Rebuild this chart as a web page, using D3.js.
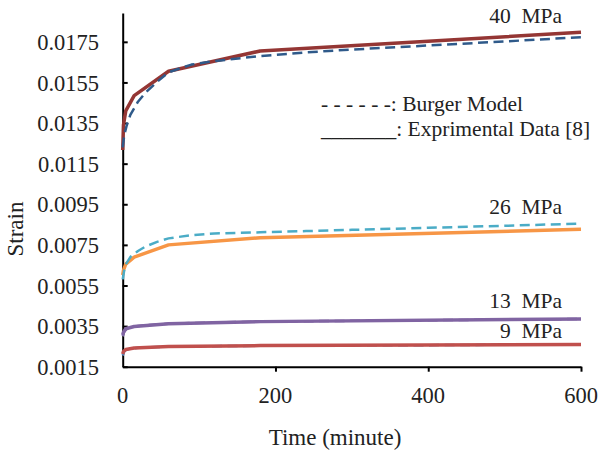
<!DOCTYPE html>
<html>
<head>
<meta charset="utf-8">
<script src="https://cdn.jsdelivr.net/npm/d3@7"></script>
<style>
  body { margin: 0; background: #fff; }
</style>
</head>
<body>
<script>
const w = 600;
const h = 452;
const serif = "Liberation Serif";

// experimental data times (minute) and model times
const expTime = [0, 1, 4, 15, 60, 180, 600];
const modelTime = [0, 2, 5, 10, 20, 30, 45, 60, 90, 120, 180, 240, 300, 400, 500, 600];

// strain values
const exp40 = [0.01217, 0.01340, 0.01410, 0.01485, 0.01605, 0.01705, 0.01797];
const model40 = [0.01230, 0.01290, 0.01335, 0.01390, 0.01455, 0.01500, 0.01553, 0.01600, 0.01638, 0.01655, 0.01680, 0.01698, 0.01712, 0.01732, 0.01752, 0.01773];

const exp26 = [0.00602, 0.00625, 0.00655, 0.00690, 0.00750, 0.00785, 0.00827];
const model26 = [0.00580, 0.00625, 0.00660, 0.00690, 0.00720, 0.00742, 0.00765, 0.00782, 0.00798, 0.00806, 0.00812, 0.00818, 0.00824, 0.00834, 0.00844, 0.00855];

const exp13 = [0.00306, 0.00320, 0.00337, 0.00348, 0.00362, 0.00372, 0.00385];
const model13 = [0.00300, 0.00322, 0.00336, 0.00344, 0.00350, 0.00354, 0.00358, 0.00361, 0.00365, 0.00368, 0.00372, 0.00374, 0.00376, 0.00379, 0.00382, 0.00385];

const exp9 = [0.00213, 0.00225, 0.00235, 0.00242, 0.00249, 0.00254, 0.00259];
const model9 = [0.00205, 0.00225, 0.00234, 0.00239, 0.00243, 0.00245, 0.00247, 0.00249, 0.00250, 0.00251, 0.00253, 0.00254, 0.00255, 0.00256, 0.00258, 0.00259];

const yTicks = [0.0015, 0.0035, 0.0055, 0.0075, 0.0095, 0.0115, 0.0135, 0.0155, 0.0175];
const xTicks = [0, 200, 400, 600];
const stressLabels = ["40  MPa", "26  MPa", "13  MPa", "9  MPa"];
const legendLabels = ["- - - - - -: Burger Model", "_______: Exprimental Data [8]"];

const svg = d3.select("body")
              .append("svg")
              .attr("width", w)
              .attr("height", h);

const xScale = d3.scaleLinear()
      .domain([0, 600])
      .range([122.7, 581]);

const yScale = d3.scaleLinear()
      .domain([0.0015, 0.01892])
      .range([366.7, 13]);

// y axis, ticks pointing inward
const yAxis = svg.append("g")
      .attr("transform", "translate(" + xScale(0) + ",0)")
      .call(d3.axisRight(yScale).tickValues(yTicks).tickSize(5).tickSizeOuter(0).tickFormat(""));
yAxis.select(".domain").attr("stroke-width", 2);
yAxis.selectAll(".tick line").attr("stroke-width", 2);

svg.selectAll(".ylab")
   .data(yTicks)
   .enter().append("text")
   .attr("x", 99)
   .attr("y", d => yScale(d))
   .attr("dy", "0.36em")
   .attr("text-anchor", "end")
   .attr("font-family", serif)
   .attr("font-size", 22.5)
   .attr("fill", "#222")
   .text(d => d3.format(".4f")(d));

// x axis, ticks pointing outward
const xAxis = svg.append("g")
      .attr("transform", "translate(0," + yScale(0.0015) + ")")
      .call(d3.axisBottom(xScale).tickValues(xTicks).tickSize(5).tickSizeOuter(0).tickFormat(""));
xAxis.select(".domain").attr("stroke-width", 2);
xAxis.selectAll(".tick line").attr("stroke-width", 2);
xAxis.selectAll(".tick").filter(d => d === 0).select("line").remove();

svg.selectAll(".xlab")
   .data(xTicks)
   .enter().append("text")
   .attr("x", d => xScale(d))
   .attr("y", 403)
   .attr("text-anchor", "middle")
   .attr("font-family", serif)
   .attr("font-size", 22.5)
   .attr("fill", "#222")
   .text(d => d);

svg.append("text")
   .attr("x", 335)
   .attr("y", 445)
   .attr("text-anchor", "middle")
   .attr("font-family", serif)
   .attr("font-size", 23)
   .attr("fill", "#222")
   .text("Time (minute)");

svg.append("text")
   .attr("transform", "translate(23,229) rotate(-90)")
   .attr("text-anchor", "middle")
   .attr("font-family", serif)
   .attr("font-size", 23)
   .attr("fill", "#222")
   .text("Strain");

const series = [
  {t: modelTime, v: model9, color: "#4F81BD", dash: true},
  {t: modelTime, v: model13, color: "#7E6AA6", dash: true},
  {t: expTime, v: exp9, color: "#C0504D", dash: false},
  {t: expTime, v: exp13, color: "#8064A2", dash: false},
  {t: expTime, v: exp26, color: "#F79646", dash: false},
  {t: modelTime, v: model26, color: "#4BACC6", dash: true},
  {t: expTime, v: exp40, color: "#943634", dash: false},
  {t: modelTime, v: model40, color: "#2F5A8A", dash: true}
];

const line = d3.line()
      .x(d => xScale(d[0]))
      .y(d => yScale(d[1]));

series.forEach(s => {
  svg.append("path")
     .datum(s.t.map((t, i) => [t, s.v[i]]))
     .attr("fill", "none")
     .attr("stroke", s.color)
     .attr("stroke-width", s.dash ? 2.5 : 3.5)
     .attr("stroke-dasharray", s.dash ? "10,5.5" : null)
     .attr("stroke-linejoin", "round")
     .attr("d", line);
});

// stress labels sit above the end of each curve
const labelEnds = [exp40[6], model26[15], exp13[6], exp9[6]];
const labelGap = [9, 10, 11, 6.5];
svg.selectAll(".slab")
   .data(stressLabels)
   .enter().append("text")
   .attr("x", xScale(600) - 19)
   .attr("y", (d, i) => yScale(labelEnds[i]) - labelGap[i])
   .attr("text-anchor", "end")
   .attr("font-family", serif)
   .attr("font-size", 21.5)
   .attr("fill", "#222")
   .style("white-space", "pre")
   .text(d => d);

svg.selectAll(".leg")
   .data(legendLabels)
   .enter().append("text")
   .attr("x", 321)
   .attr("y", (d, i) => 111 + i * 25)
   .attr("font-family", serif)
   .attr("font-size", 21.5)
   .attr("fill", "#222")
   .style("white-space", "pre")
   .text(d => d);
</script>
</body>
</html>
